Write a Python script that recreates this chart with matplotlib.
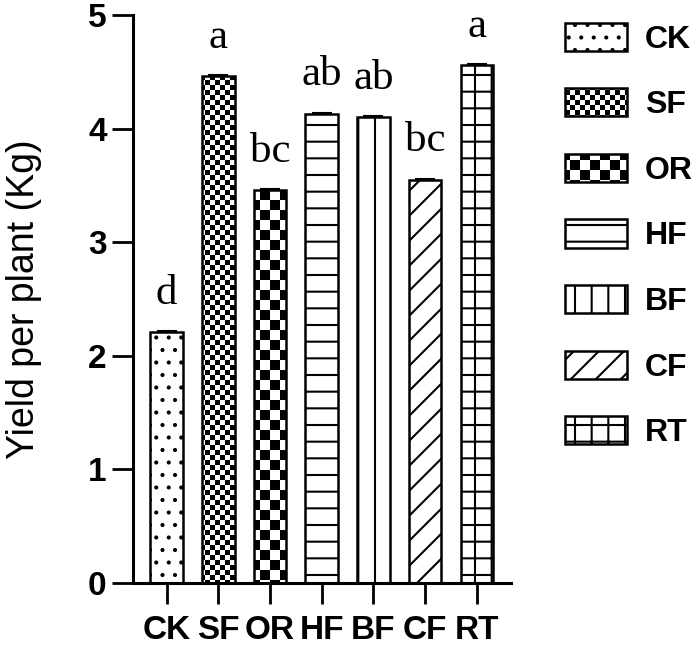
import warnings
import matplotlib
matplotlib.use("Agg")
import matplotlib.pyplot as plt
from matplotlib import hatch as mhatch
from matplotlib.path import Path

warnings.filterwarnings("ignore")

groups = ["CK", "SF", "OR", "HF", "BF", "CF", "RT"]
yields = [2.21, 4.46, 3.46, 4.13, 4.10, 3.55, 4.56]
errors = [0.01, 0.01, 0.01, 0.01, 0.01, 0.01, 0.01]
letters = ["d", "a", "bc", "ab", "ab", "bc", "a"]
# d = dots, k/K = fine/coarse checkerboard, n = diagonal lines
hatches = ["d", "k", "K", "-", "|", "n", "+"]

HATCH_LW = 1.5  # points
DPI = 100


class CheckerHatch(mhatch.HatchPatternBase):
    def __init__(self, hatch, density):
        self.n = hatch.count("k") * 20 + hatch.count("K") * 10
        self.cells = [(i, j) for i in range(self.n) for j in range(self.n)
                      if (i + j) % 2 == 0]
        self.num_vertices = len(self.cells) * 5

    def set_vertices_and_codes(self, vertices, codes):
        s = 1.0 / self.n
        pad = HATCH_LW / 72 / 2  # stroke adds half a line width on each side
        for k, (i, j) in enumerate(self.cells):
            x0, y0 = i * s + pad, j * s + pad
            x1, y1 = (i + 1) * s - pad, (j + 1) * s - pad
            vertices[5 * k:5 * k + 5] = [(x0, y0), (x1, y0), (x1, y1), (x0, y1), (x0, y0)]
            codes[5 * k] = Path.MOVETO
            codes[5 * k + 1:5 * k + 4] = Path.LINETO
            codes[5 * k + 4] = Path.CLOSEPOLY


class DotHatch(mhatch.SmallFilledCircles):
    size = 0.08

    def __init__(self, hatch, density):
        self.num_rows = hatch.count("d") * 8
        mhatch.Circles.__init__(self, hatch, density)


class DiagHatch(mhatch.NorthEastHatch):
    def __init__(self, hatch, density):
        self.num_lines = hatch.count("n") * 8
        self.num_vertices = (self.num_lines + 1) * 2 if self.num_lines else 0


mhatch._hatch_types.extend([CheckerHatch, DotHatch, DiagHatch])

plt.rcParams["font.family"] = ["Liberation Sans", "DejaVu Sans"]
plt.rcParams["hatch.linewidth"] = HATCH_LW

fig = plt.figure(figsize=(7.0, 6.48), dpi=DPI)
ax = fig.add_axes([0.19, 0.1003, 0.54, 0.8766])

x = list(range(len(groups)))
bars = ax.bar(x, yields, width=0.63, color="white", edgecolor="black",
              linewidth=1.8, zorder=2)
for b, h in zip(bars, hatches):
    b.set_hatch(h)

ax.errorbar(x, yields, yerr=[[0] * len(errors), errors], fmt="none",
            ecolor="black", elinewidth=1.5, capsize=7, capthick=1.5, zorder=3)

for xi, y, e, lab in zip(x, yields, errors, letters):
    ax.text(xi, y + e + 0.24, lab, ha="center", va="baseline",
            family="Liberation Serif", fontsize=31)

ax.set_xlim(-0.65, 6.66)
ax.set_ylim(0, 5)
ax.set_yticks([0, 1, 2, 3, 4, 5])
ax.set_xticks(x)
ax.set_xticklabels(groups)
for s in ["top", "right"]:
    ax.spines[s].set_visible(False)
for s in ["left", "bottom"]:
    ax.spines[s].set_linewidth(2.2)
ax.tick_params(axis="both", length=15, width=2.0, labelsize=24, pad=4)
ax.tick_params(axis="x", pad=8)
for t in ax.get_xticklabels() + ax.get_yticklabels():
    t.set_fontweight("bold")
ax.set_ylabel("Yield per plant (Kg)", fontsize=27)
ax.yaxis.set_label_coords(-0.24, 0.5)

leg = ax.legend(bars.patches, groups, loc="upper left",
                bbox_to_anchor=(0.807, 0.965), bbox_transform=fig.transFigure,
                frameon=False, prop={"weight": "bold", "size": 23},
                handlelength=1.95, handleheight=0.98, labelspacing=1.05,
                handletextpad=0.55, borderpad=0, borderaxespad=0)

fig.savefig("out.png", dpi=DPI)
